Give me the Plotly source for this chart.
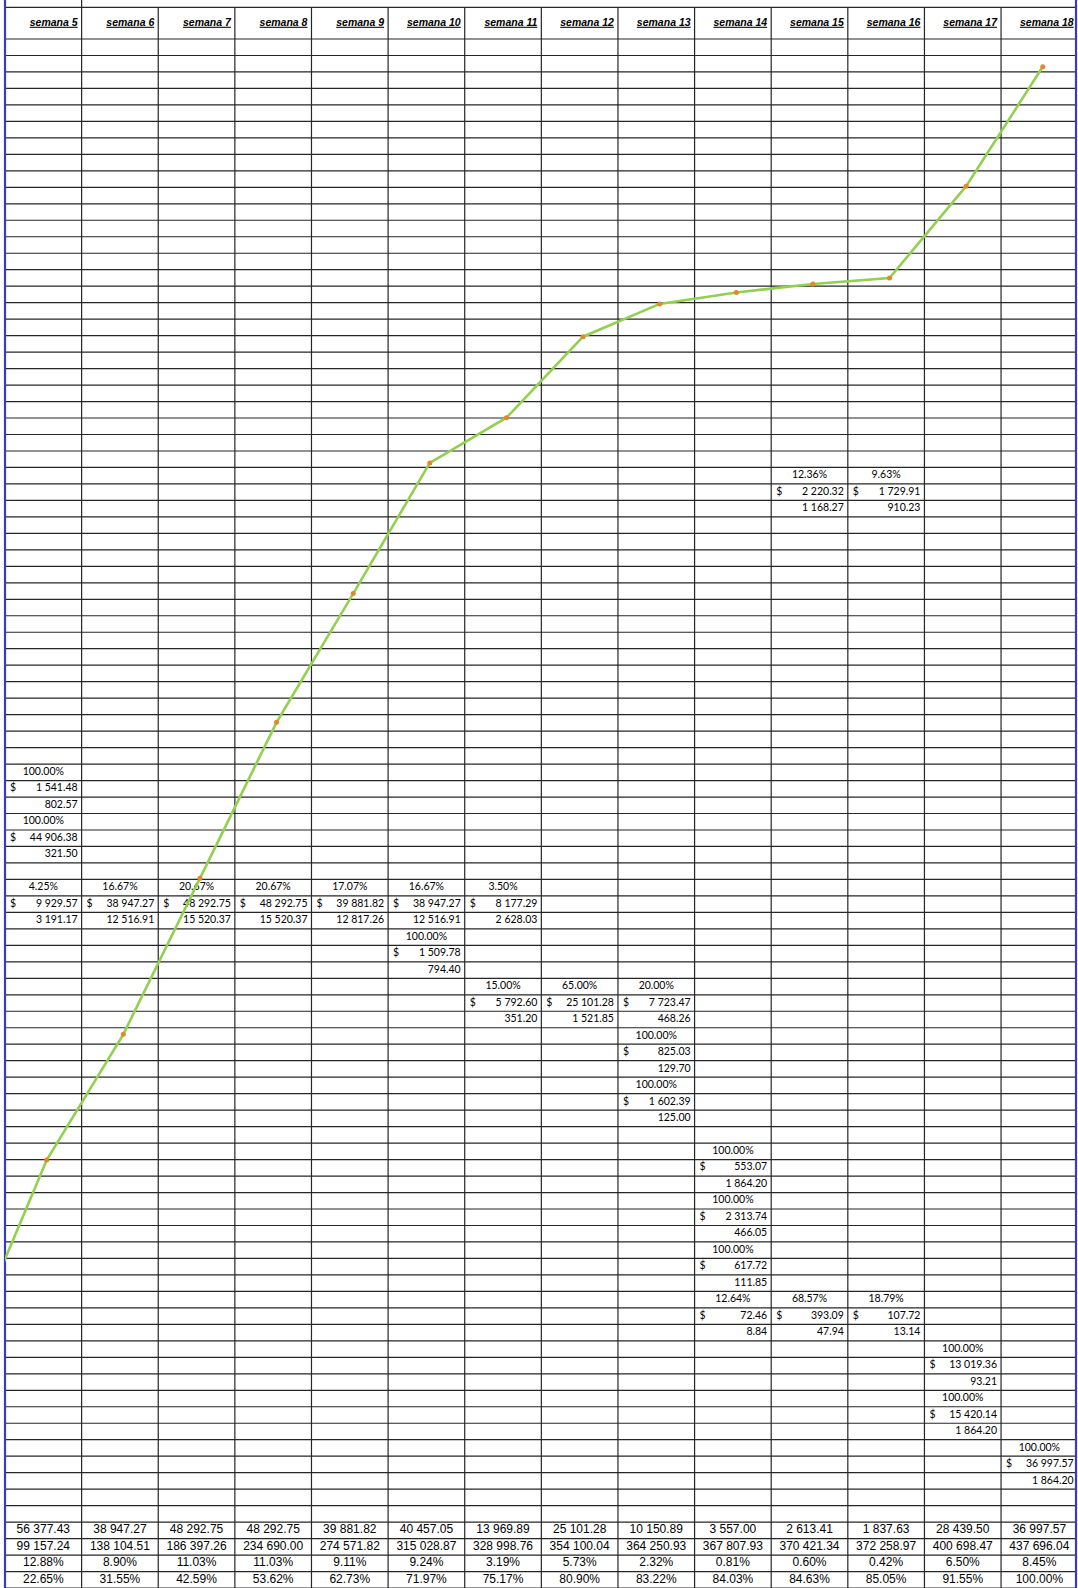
import plotly.graph_objects as go

# ---------------------------------------------------------------- data
semanas = list(range(5, 19))
encabezados = [f"semana {s}" for s in semanas]

monto_semanal = [56377.43, 38947.27, 48292.75, 48292.75, 39881.82, 40457.05, 13969.89,
                 25101.28, 10150.89, 3557.00, 2613.41, 1837.63, 28439.50, 36997.57]
monto_acumulado = [99157.24, 138104.51, 186397.26, 234690.00, 274571.82, 315028.87, 328998.76,
                   354100.04, 364250.93, 367807.93, 370421.34, 372258.97, 400698.47, 437696.04]
pct_semanal = [12.88, 8.90, 11.03, 11.03, 9.11, 9.24, 3.19, 5.73, 2.32, 0.81, 0.60, 0.42, 6.50, 8.45]
pct_acumulado = [22.65, 31.55, 42.59, 53.62, 62.73, 71.97, 75.17, 80.90, 83.22, 84.03, 84.63,
                 85.05, 91.55, 100.00]
# cumulative progress of the previous week (semana 4), where the S-curve enters the sheet
pct_acumulado_semana4 = 9.77

# scheduled activity blocks: week, percentage, amount ($) and quantity
bloque_semana = [5, 5, 5, 6, 7, 8, 9, 10, 11, 10, 11, 12, 13, 13, 13,
                 14, 14, 14, 14, 15, 16, 17, 17, 18, 15, 16]
bloque_pct = [100.00, 100.00, 4.25, 16.67, 20.67, 20.67, 17.07, 16.67, 3.50, 100.00, 15.00,
              65.00, 20.00, 100.00, 100.00, 100.00, 100.00, 100.00, 12.64, 68.57, 18.79,
              100.00, 100.00, 100.00, 12.36, 9.63]
bloque_monto = [1541.48, 44906.38, 9929.57, 38947.27, 48292.75, 48292.75, 39881.82, 38947.27,
                8177.29, 1509.78, 5792.60, 25101.28, 7723.47, 825.03, 1602.39, 553.07, 2313.74,
                617.72, 72.46, 393.09, 107.72, 13019.36, 15420.14, 36997.57, 2220.32, 1729.91]
bloque_cant = [802.57, 321.50, 3191.17, 12516.91, 15520.37, 15520.37, 12817.26, 12516.91,
               2628.03, 794.40, 351.20, 1521.85, 468.26, 129.70, 125.00, 1864.20, 466.05,
               111.85, 8.84, 47.94, 13.14, 93.21, 1864.20, 1864.20, 1168.27, 910.23]

# ---------------------------------------------------------------- sheet layout
# first spreadsheet row of every block (rows counted below the header)
bloque_fila = [44, 47, 51, 51, 51, 51, 51, 51, 51, 54, 57, 57, 57, 60, 63,
               67, 70, 73, 76, 76, 76, 79, 82, 85, 26, 26]
FILAS_TOTALES = [90, 91, 92, 93]

FIG_W, FIG_H = 1078, 1588
COL_W = 76.62          # column width, px
X_LEFT = 5.0           # left edge of the first column, px
X_RIGHT = 1076.0       # right frame of the sheet, px
ROW_H = 16.479         # row height, px
Y_ROWS = 39.0          # top of the first row under the header, px
Y_HEAD = 7.3           # top of the header row, px
N_ROWS = 94
N_COLS = 14

FONT_CELDA = "Lato"
FONT_ARIAL = "Liberation Sans, Arial"


def px_x(px):
    return (px - X_LEFT) / COL_W


def px_y(px):
    return (px - Y_ROWS) / ROW_H


def fmt(v):
    return f"{v:,.2f}".replace(",", " ")


r_head = px_y(Y_HEAD)
r_top = px_y(0)
r_bot = px_y(FIG_H)
k_right = px_x(X_RIGHT)

fig = go.Figure()

# ---------------------------------------------------------------- grid
gx, gy = [], []
for r in [r_head] + list(range(N_ROWS + 1)):
    gx += [0, k_right, None]
    gy += [r, r, None]
for k in range(1, N_COLS):
    top = r_top if k == 1 else r_head
    gx += [k, k, None]
    gy += [top, r_bot, None]
fig.add_trace(go.Scatter(x=gx, y=gy, mode="lines", line=dict(color="#262626", width=1.2),
                         hoverinfo="skip", showlegend=False))

# blue frame of the sheet
fig.add_trace(go.Scatter(x=[0, 0, None, k_right, k_right], y=[r_top, r_bot, None, r_top, r_bot],
                         mode="lines", line=dict(color="#3a3ac4", width=2.2),
                         hoverinfo="skip", showlegend=False))

# ---------------------------------------------------------------- header
pad_r = 4 / COL_W
fig.add_trace(go.Scatter(
    x=[s - 5 + 1 - pad_r for s in semanas],
    y=[(r_head + 0) / 2] * len(semanas),
    mode="text", text=[f"<b><i><u>{t}</u></i></b>" for t in encabezados],
    textposition="middle left",
    textfont=dict(family=FONT_ARIAL, size=10.5, color="black"),
    hoverinfo="skip", showlegend=False))

# ---------------------------------------------------------------- activity blocks
cols = [s - 5 for s in bloque_semana]
fig.add_trace(go.Scatter(
    x=[c + 0.5 for c in cols], y=[f + 0.5 for f in bloque_fila],
    mode="text", text=[f"{p:.2f}%" for p in bloque_pct], textposition="middle center",
    textfont=dict(family=FONT_CELDA, size=10.5, color="black"),
    hoverinfo="skip", showlegend=False))
fig.add_trace(go.Scatter(
    x=[c + 5 / COL_W for c in cols], y=[f + 1.5 for f in bloque_fila],
    mode="text", text=["$"] * len(cols), textposition="middle right",
    textfont=dict(family=FONT_CELDA, size=10.5, color="black"),
    hoverinfo="skip", showlegend=False))
fig.add_trace(go.Scatter(
    x=[c + 1 - pad_r for c in cols], y=[f + 1.5 for f in bloque_fila],
    mode="text", text=[fmt(m) for m in bloque_monto], textposition="middle left",
    textfont=dict(family=FONT_CELDA, size=10.5, color="black"),
    hoverinfo="skip", showlegend=False))
fig.add_trace(go.Scatter(
    x=[c + 1 - pad_r for c in cols], y=[f + 2.5 for f in bloque_fila],
    mode="text", text=[fmt(q) for q in bloque_cant], textposition="middle left",
    textfont=dict(family=FONT_CELDA, size=10.5, color="black"),
    hoverinfo="skip", showlegend=False))

# ---------------------------------------------------------------- weekly totals
filas_totales = [
    [fmt(v) for v in monto_semanal],
    [fmt(v) for v in monto_acumulado],
    [f"{v:.2f}%" for v in pct_semanal],
    [f"{v:.2f}%" for v in pct_acumulado],
]
for fila, textos in zip(FILAS_TOTALES, filas_totales):
    fig.add_trace(go.Scatter(
        x=[s - 5 + 0.5 for s in semanas], y=[fila + 0.5] * len(semanas),
        mode="text", text=textos, textposition="middle center",
        textfont=dict(family=FONT_ARIAL, size=12, color="black"),
        hoverinfo="skip", showlegend=False))

# ---------------------------------------------------------------- S-curve (cumulative %)
CURVA_X5 = 46.7        # px position of the semana 5 point
PCT0_PX = 1480.3       # px position of 0 %
PX_POR_PCT = 14.136
fig.add_trace(go.Scatter(
    x=[4] + semanas, y=[pct_acumulado_semana4] + pct_acumulado,
    mode="lines+markers",
    line=dict(color="#92D050", width=2.6),
    marker=dict(color="#E3862C", size=5),
    xaxis="x2", yaxis="y2", hoverinfo="skip", showlegend=False))

fig.update_layout(
    width=FIG_W, height=FIG_H,
    margin=dict(l=0, r=0, t=0, b=0, pad=0),
    paper_bgcolor="white", plot_bgcolor="rgba(0,0,0,0)",
    showlegend=False, hovermode=False,
    xaxis=dict(range=[px_x(0), px_x(FIG_W)], domain=[0, 1], visible=False, fixedrange=True),
    yaxis=dict(range=[r_bot, r_top], domain=[0, 1], visible=False, fixedrange=True),
    xaxis2=dict(range=[5 - (CURVA_X5 - X_LEFT) / COL_W, 5 + (X_RIGHT - CURVA_X5) / COL_W],
                domain=[X_LEFT / FIG_W, X_RIGHT / FIG_W], anchor="y2",
                visible=False, fixedrange=True),
    yaxis2=dict(range=[(PCT0_PX - FIG_H) / PX_POR_PCT, PCT0_PX / PX_POR_PCT],
                domain=[0, 1], anchor="x2", visible=False, fixedrange=True),
)

fig.write_html("out.html", config={"displayModeBar": False})
